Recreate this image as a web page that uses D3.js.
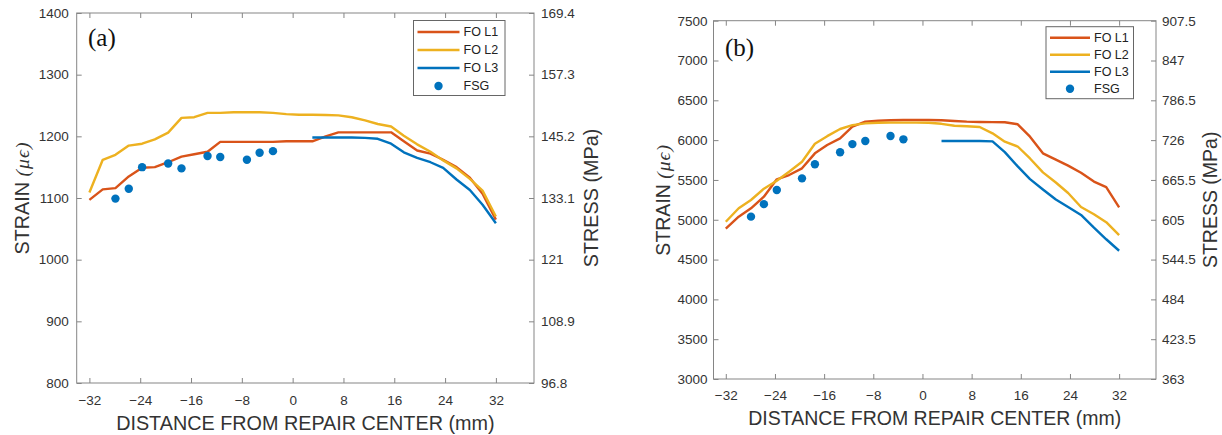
<!DOCTYPE html>
<html><head><meta charset="utf-8">
<script src="https://cdn.jsdelivr.net/npm/d3@7"></script>
<style>body{margin:0;background:#fff} svg{display:block}</style>
</head><body><svg id="chart" width="1222" height="435"></svg>
<script>
// ---------- data ----------
const distance = [-32,-29.9,-27.9,-25.8,-23.7,-21.7,-19.6,-17.5,-15.5,-13.4,-11.4,-9.3,-7.2,-5.2,-3.1,-1,1,3.1,5.2,7.2,9.3,11.4,13.4,15.5,17.5,19.6,21.7,23.7,25.8,27.9,29.9,32];

// panel (a)
const foL1A = [1097,1114,1116,1135,1149,1150,1158,1167,1171,1175,1191,1191,1191,1191,1191,1192,1192,1192,1200,1206.5,1206.5,1206.5,1206.5,1206.5,1192,1177,1172,1162,1150,1133,1107,1065];
const foL2A = [1109,1162,1170,1185,1188,1195,1206,1230,1231,1238,1238,1239,1239,1239,1238,1236,1235,1235,1234.5,1234,1231,1226,1220,1216,1201,1187,1175,1161,1148,1131,1112,1070];
const foL3A = [null,null,null,null,null,null,null,null,null,null,null,null,null,null,null,null,null,1198,1198,1198,1198,1197.5,1196,1188,1174,1165,1158,1149,1130,1113,1089,1059];
const fsgDistA = [-27.9,-25.8,-23.7,-19.6,-17.5,-13.4,-11.4,-7.2,-5.2,-3.1];
const fsgStrainA = [1099,1115,1150,1156,1148,1168,1166.5,1162,1173.5,1176];

// panel (b)
const foL1B = [4888,5039,5143,5290,5508,5562,5646,5834,5939,6022,6169,6232,6244,6250,6253,6253,6253,6250,6240,6232,6228,6226,6224,6199,6043,5834,5755,5680,5590,5480,5410,5156];
const foL2B = [4975,5144,5248,5390,5490,5604,5729,5955,6050,6140,6188,6211,6219,6220,6220,6220,6219,6205,6180,6175,6165,6085,5980,5920,5770,5595,5468,5336,5160,5070,4970,4808];
const foL3B = [null,null,null,null,null,null,null,null,null,null,null,null,null,null,null,null,null,5989,5989,5989,5989,5985,5850,5670,5510,5380,5255,5160,5060,4900,4755,4611];
const fsgDistB = [-27.9,-25.8,-23.7,-19.6,-17.5,-13.4,-11.4,-9.3,-5.2,-3.1];
const fsgStrainB = [5039,5196,5374,5520,5698,5847,5950,5989,6052,6010];

// ticks
const distanceTicks = [-32,-24,-16,-8,0,8,16,24,32];
const strainTicksA = [800,900,1000,1100,1200,1300,1400];
const stressTicksA = [96.8,108.9,121,133.1,145.2,157.3,169.4];
const strainTicksB = [3000,3500,4000,4500,5000,5500,6000,6500,7000,7500];
const stressTicksB = [363,423.5,484,544.5,605,665.5,726,786.5,847,907.5];

const seriesNames = ["FO L1","FO L2","FO L3","FSG"];
const seriesColors = ["#D95319","#EDB120","#0072BD","#0072BD"];
const panelLabels = ["(a)","(b)"];
const xTitle = "DISTANCE FROM REPAIR CENTER (mm)";
const yTitle = "STRAIN ";
const yTitleUnit = "(\u03BC\u03F5)";
const y2Title = "STRESS (MPa)";

// ---------- drawing ----------
const svg = d3.select("#chart");
const SANS = "'Liberation Sans', Arial, Helvetica, sans-serif";
const SERIF = "'Liberation Serif', 'Times New Roman', serif";
const BOX = "#858585", TXT = "#333";

function panel(cfg) {
  const g = svg.append("g");
  const x = d3.scaleLinear().domain([-34, 38]).range([cfg.left, cfg.right]);
  const y = d3.scaleLinear().domain(cfg.yDomain).range([cfg.bottom, cfg.top]);
  const y2 = d3.scaleLinear().domain(cfg.y2Domain).range([cfg.bottom, cfg.top]);

  const ax = (sel) => { sel.select(".domain").remove();
    sel.selectAll("line").attr("stroke", BOX);
    sel.selectAll("text").attr("fill", TXT).style("font-family", SANS).style("font-size", cfg.tickFont + "px"); };
  g.append("g").attr("transform", `translate(0,${cfg.bottom})`)
    .call(d3.axisBottom(x).tickValues(distanceTicks).tickSize(-5).tickPadding(cfg.xPad).tickFormat(d3.format("d"))).call(ax);
  g.append("g").attr("transform", `translate(0,${cfg.top})`)
    .call(d3.axisTop(x).tickValues(distanceTicks).tickSize(-5).tickFormat("")).call(ax);
  g.append("g").attr("transform", `translate(${cfg.left},0)`)
    .call(d3.axisLeft(y).tickValues(cfg.yTicks).tickSize(-5).tickPadding(cfg.yPad).tickFormat(d3.format("d"))).call(ax);
  g.append("g").attr("transform", `translate(${cfg.right},0)`)
    .call(d3.axisRight(y2).tickValues(cfg.y2Ticks).tickSize(-5).tickPadding(cfg.y2Pad).tickFormat(d => String(d))).call(ax);

  const line = d3.line().defined(d => d[1] != null).x(d => x(d[0])).y(d => y(d[1]));
  cfg.series.forEach((vals, i) => {
    g.append("path").datum(distance.map((d, k) => [d, vals[k]]))
      .attr("fill", "none").attr("stroke", seriesColors[i]).attr("stroke-width", 2.4)
      .attr("stroke-linejoin", "round").attr("d", line);
  });
  g.append("g").selectAll("circle").data(cfg.fsgX.map((d, k) => [d, cfg.fsgY[k]])).join("circle")
    .attr("cx", d => x(d[0])).attr("cy", d => y(d[1])).attr("r", 4.2).attr("fill", seriesColors[3]);

  g.append("rect").attr("x", cfg.left).attr("y", cfg.top).attr("width", cfg.right - cfg.left)
    .attr("height", cfg.bottom - cfg.top).attr("fill", "none").attr("stroke", BOX).attr("stroke-width", 1);

  g.append("text").attr("x", cfg.labelX).attr("y", cfg.labelY).text(cfg.label)
    .style("font-family", SERIF).style("font-size", "25px").attr("fill", "#111");

  g.append("text").attr("x", (cfg.left + cfg.right) / 2).attr("y", cfg.xTitleY).attr("text-anchor", "middle")
    .style("font-family", SANS).style("font-size", cfg.titleFont + "px").attr("fill", TXT).text(xTitle);
  const yt = g.append("text").attr("transform", `translate(${cfg.yTitleX},${(cfg.top + cfg.bottom) / 2}) rotate(-90)`)
    .attr("text-anchor", "middle").style("font-family", SANS).style("font-size", cfg.titleFont + "px").attr("fill", TXT);
  yt.append("tspan").text(yTitle);
  yt.append("tspan").style("font-family", SERIF).style("font-style", "italic").attr("letter-spacing", 1).text(yTitleUnit);
  g.append("text").attr("transform", `translate(${cfg.y2TitleX},${(cfg.top + cfg.bottom) / 2}) rotate(-90)`)
    .attr("text-anchor", "middle").style("font-family", SANS).style("font-size", cfg.titleFont + "px").attr("fill", TXT).text(y2Title);

  const L = cfg.legend;
  const lg = g.append("g");
  lg.append("rect").attr("x", L.x).attr("y", L.y).attr("width", L.w).attr("height", L.h)
    .attr("fill", "#fff").attr("stroke", "#666").attr("stroke-width", 1);
  seriesNames.forEach((name, i) => {
    const ry = L.y + L.row0 + i * L.dy;
    if (i < 3) {
      lg.append("line").attr("x1", L.x + 4).attr("x2", L.x + 4 + L.lineW).attr("y1", ry).attr("y2", ry)
        .attr("stroke", seriesColors[i]).attr("stroke-width", 2.4);
    } else {
      lg.append("circle").attr("cx", L.x + 4 + L.lineW / 2).attr("cy", ry).attr("r", 4.2).attr("fill", seriesColors[i]);
    }
    lg.append("text").attr("x", L.x + 8 + L.lineW).attr("y", ry).attr("dy", "0.35em")
      .style("font-family", SANS).style("font-size", L.font + "px").attr("fill", "#222").text(name);
  });
}

panel({
  left: 76.7, right: 534, top: 13, bottom: 383,
  yDomain: [800, 1400], y2Domain: [96.8, 169.4], yTicks: strainTicksA, y2Ticks: stressTicksA,
  series: [foL1A, foL2A, foL3A], fsgX: fsgDistA, fsgY: fsgStrainA,
  tickFont: 13.5, titleFont: 19.8, xPad: 12, yPad: 8, y2Pad: 7,
  xTitleY: 430, yTitleX: 28.5, y2TitleX: 598,
  label: panelLabels[0], labelX: 88, labelY: 46,
  legend: {x: 413.5, y: 20.5, w: 91.5, h: 75, row0: 11.5, dy: 18, lineW: 42, font: 12.5}
});
panel({
  left: 713.5, right: 1156, top: 20.7, bottom: 379,
  yDomain: [3000, 7500], y2Domain: [363, 907.5], yTicks: strainTicksB, y2Ticks: stressTicksB,
  series: [foL1B, foL2B, foL3B], fsgX: fsgDistB, fsgY: fsgStrainB,
  tickFont: 13.5, titleFont: 19.5, xPad: 11, yPad: 6, y2Pad: 6,
  xTitleY: 425, yTitleX: 670, y2TitleX: 1217,
  label: panelLabels[1], labelX: 725, labelY: 56,
  legend: {x: 1046, y: 26.7, w: 87.5, h: 72, row0: 11, dy: 17, lineW: 40, font: 12.5}
});
</script></body></html>
